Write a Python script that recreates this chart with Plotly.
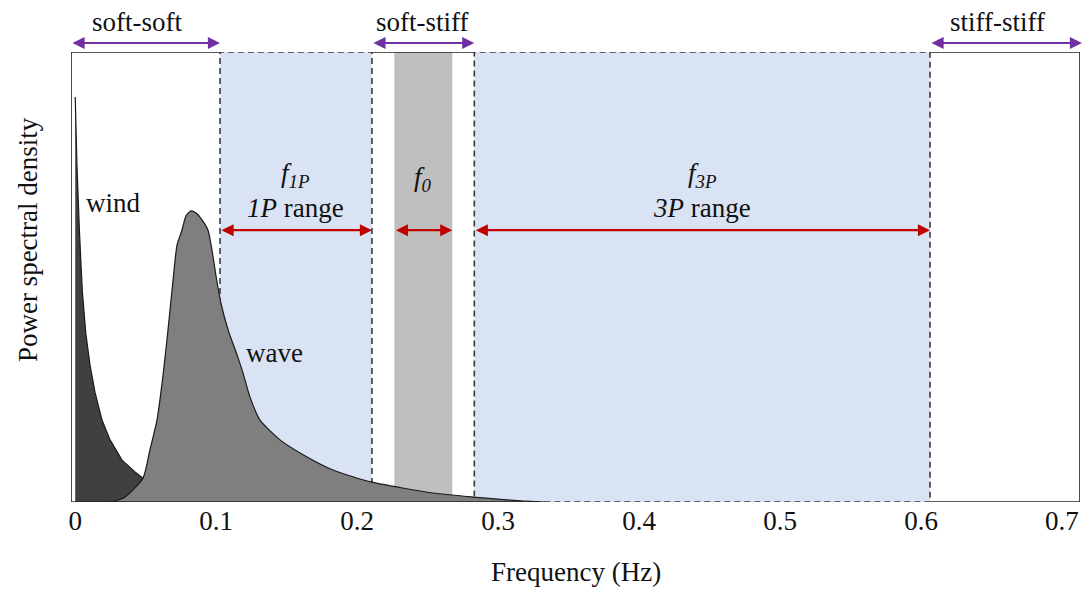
import plotly.graph_objects as go

# Axis limits
x_range = [-0.003, 0.7128]   # Hz
y_range = [0.0, 1.0]         # normalised PSD

x_ticks = [0, 0.1, 0.2, 0.3, 0.4, 0.5, 0.6, 0.7]
x_tick_text = ["0", "0.1", "0.2", "0.3", "0.4", "0.5", "0.6", "0.7"]

# Wind spectrum (normalised)
wind_f = [0.0, 0.0012, 0.003, 0.005, 0.0075, 0.0105, 0.014, 0.019, 0.0247,
          0.0332, 0.0424, 0.0481, 0.060, 0.0814, 0.110, 0.145]
wind_psd = [0.90, 0.75, 0.60, 0.47, 0.375, 0.304, 0.244, 0.182, 0.138,
            0.093, 0.067, 0.053, 0.031, 0.013, 0.004, 0.0]

# Wave spectrum (normalised)
wave_f = [0.0261, 0.0353, 0.0481, 0.0530, 0.0580, 0.0623, 0.0658, 0.0694,
          0.0722, 0.0757, 0.0786, 0.0821, 0.0857, 0.0899, 0.0942, 0.0970,
          0.1000, 0.1035, 0.1085, 0.1148, 0.1190, 0.1240, 0.1311, 0.1453,
          0.1595, 0.1829, 0.2105, 0.2538, 0.2822, 0.3134, 0.3333]
wave_psd = [0.0, 0.011, 0.053, 0.116, 0.182, 0.282, 0.382, 0.493,
            0.571, 0.604, 0.636, 0.647, 0.642, 0.627, 0.604, 0.560,
            0.500, 0.440, 0.382, 0.327, 0.287, 0.233, 0.182, 0.138,
            0.109, 0.071, 0.044, 0.020, 0.011, 0.003, 0.0]

# Excitation bands (Hz)
band_1p = [0.1027, 0.2105]
band_f0 = [0.2264, 0.2675]
band_3p = [0.2831, 0.6064]

# Design regimes
regime_names = ["soft-soft", "soft-stiff", "stiff-stiff"]
regime_spans = [[x_range[0], band_1p[0]], [band_1p[1], band_3p[0]], [band_3p[1], 0.7142]]
regime_label_x = [0.0438, 0.2467, 0.6546]

FONT = "Liberation Serif, Times New Roman, serif"
FS = 27
BLUE = "#DAE3F3"
GREY_BAND = "#BFBFBF"
RED = "#C00000"
PURPLE = "#7030A0"
DASH = "6px,4px"
TXT = "#111111"

fig = go.Figure()

fig.add_trace(go.Scatter(
    x=wind_f, y=wind_psd, mode="lines", fill="tozeroy",
    fillcolor="#404040", line=dict(color="#1a1a1a", width=1.2),
    hoverinfo="skip", showlegend=False))
fig.add_trace(go.Scatter(
    x=wave_f, y=wave_psd, mode="lines", fill="tozeroy",
    fillcolor="#7F7F7F", line=dict(color="#1a1a1a", width=1.2, shape="spline", smoothing=0.6),
    hoverinfo="skip", showlegend=False))

shapes = []
# shaded bands beneath the spectra
for band in (band_1p, band_3p):
    shapes.append(dict(type="rect", xref="x", yref="y", x0=band[0], x1=band[1],
                       y0=y_range[0], y1=y_range[1], fillcolor=BLUE,
                       line=dict(color="#3a3a3a", width=1.6, dash=DASH), layer="below"))
shapes.append(dict(type="rect", xref="x", yref="y", x0=band_f0[0], x1=band_f0[1],
                   y0=y_range[0], y1=y_range[1], fillcolor=GREY_BAND,
                   line=dict(width=0), layer="below"))

# solid frame where no band edge is drawn
frame = dict(color="#222222", width=1.6)
frame_segments = [
    (x_range[0], y_range[0], x_range[0], y_range[1]),
    (x_range[1], y_range[0], x_range[1], y_range[1]),
    (x_range[0], y_range[1], band_1p[0], y_range[1]),
    (band_1p[1], y_range[1], band_3p[0], y_range[1]),
    (band_3p[1], y_range[1], x_range[1], y_range[1]),
    (x_range[0], y_range[0], wave_f[-1] - 0.015, y_range[0]),
    (band_3p[1], y_range[0], x_range[1], y_range[0]),
]
for x0, y0, x1, y1 in frame_segments:
    shapes.append(dict(type="line", xref="x", yref="y", x0=x0, y0=y0, x1=x1, y1=y1,
                       line=frame, layer="above"))

annotations = []


def double_arrow(x0, x1, y, color, yref="y"):
    d = dict(x=x1, y=y, ax=x0, xref="x", yref=yref, axref="x",
             text="", showarrow=True, arrowhead=2, arrowside="end+start",
             arrowsize=1.1, arrowwidth=2.2, arrowcolor=color, standoff=0, startstandoff=0)
    if yref == "paper":
        d.update(ay=0, ayref="pixel")
    else:
        d.update(ay=y, ayref=yref)
    return d


def label(x, y, text, yref="y", **kw):
    d = dict(x=x, y=y, xref="x", yref=yref, text=text, showarrow=False,
             font=dict(family=FONT, size=FS, color=TXT),
             xanchor="center", yanchor="middle")
    d.update(kw)
    return d


arrow_y = 0.604
for band in (band_1p, band_f0, band_3p):
    annotations.append(double_arrow(band[0], band[1], arrow_y, RED))

for name, span, lx in zip(regime_names, regime_spans, regime_label_x):
    annotations.append(double_arrow(span[0], span[1], 1.02, PURPLE, yref="paper"))
    annotations.append(label(lx, 1.067, name, yref="paper"))

annotations.append(label(sum(band_1p) / 2, 0.727, "<i>f</i><sub><i>1P</i></sub>"))
annotations.append(label(sum(band_1p) / 2, 0.653, "<i>1P</i> range"))
annotations.append(label(sum(band_f0) / 2, 0.718, "<i>f</i><sub><i>0</i></sub>"))
annotations.append(label(sum(band_3p) / 2, 0.727, "<i>f</i><sub><i>3P</i></sub>"))
annotations.append(label(sum(band_3p) / 2, 0.653, "<i>3P</i> range"))

annotations.append(label(0.0268, 0.664, "wind"))
annotations.append(label(0.1417, 0.331, "wave"))

annotations.append(dict(x=-0.0426, y=0.582, xref="paper", yref="paper",
                        text="Power spectral density", textangle=-90, showarrow=False,
                        font=dict(family=FONT, size=FS, color=TXT),
                        xanchor="center", yanchor="middle"))
annotations.append(dict(x=0.5, y=-0.156, xref="paper", yref="paper",
                        text="Frequency (Hz)", showarrow=False,
                        font=dict(family=FONT, size=FS, color=TXT),
                        xanchor="center", yanchor="middle"))

fig.update_layout(
    width=1086, height=591,
    margin=dict(l=71, r=6, t=52, b=89),
    paper_bgcolor="white", plot_bgcolor="white",
    shapes=shapes, annotations=annotations,
    xaxis=dict(range=x_range, tickvals=x_ticks, ticktext=x_tick_text, ticks="",
               showgrid=False, zeroline=False, showline=False,
               tickfont=dict(family=FONT, size=FS, color=TXT)),
    yaxis=dict(range=y_range, showticklabels=False, ticks="", showgrid=False,
               zeroline=False, showline=False),
)

fig.write_html("out.html")
